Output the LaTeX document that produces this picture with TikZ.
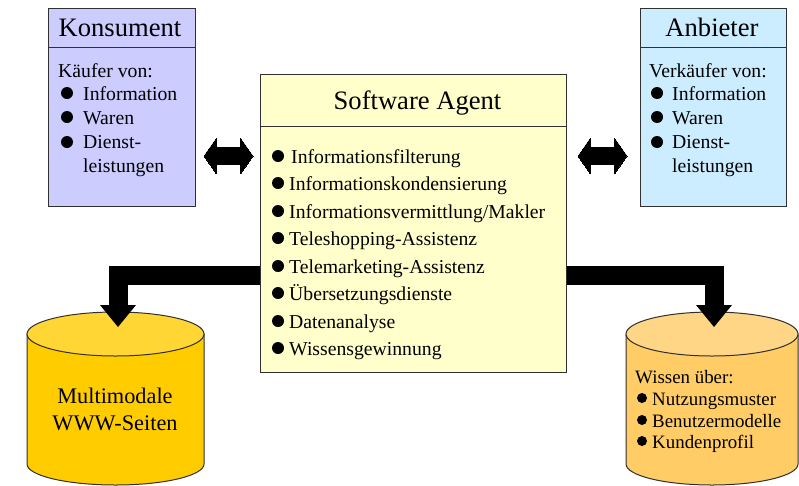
\documentclass[tikz,border=0pt]{standalone}
\usepackage{fontspec}
\setmainfont{Liberation Serif}
\usetikzlibrary{shapes.arrows,shapes.geometric,arrows.meta}
\definecolor{konsum}{HTML}{CCCCFF}
\definecolor{agentc}{HTML}{FFFFCC}
\definecolor{anbiet}{HTML}{CCECFF}
\definecolor{gold}{HTML}{FFCC00}
\definecolor{goldtop}{HTML}{FFD633}
\definecolor{apri}{HTML}{FFCC66}
\definecolor{apritop}{HTML}{FFD685}
\definecolor{edge}{HTML}{303030}
\newcommand{\fs}[1]{\fontsize{#1}{#1}\selectfont}
\tikzset{x=1pt,y=-1pt,
 boxshape/.style={draw=edge,line width=1pt,inner sep=0pt,anchor=north west},
 title/.style={anchor=base,inner sep=0pt,font=\fs{26.6}},
 txt/.style={anchor=base west,inner sep=0pt,font=\fs{19.7}},
 mid/.style={anchor=base,inner sep=0pt,font=\fs{22.3}},
 small/.style={anchor=base west,inner sep=0pt,font=\fs{18.9}},
 dot/.style={circle,fill=black,inner sep=0pt,minimum size=12pt},
 sdot/.style={circle,fill=black,inner sep=0pt,minimum size=10pt},
 link/.style={draw=black,line width=19pt,-{Triangle[length=22pt,width=36pt,line width=0pt,sep=0pt]}},
 dbl/.style={double arrow,fill=black,draw=black,line width=0pt,inner xsep=0pt,inner ysep=8.5pt,minimum height=49pt,double arrow head extend=9pt,double arrow tip angle=110,anchor=center},
}
\newcommand{\cyl}[7]{% name, left, right, fill, topfill
 \path[draw=edge,line width=1pt,fill=#4] (#2,334) -- (#2,464) arc[start angle=180,end angle=0,x radius=#6,y radius=21] -- (#3,334) -- cycle;
 \node[ellipse,draw=edge,line width=1pt,fill=#5,inner sep=0pt,minimum width=#7,minimum height=44pt] (#1) at (#2+#6,334) {};
}
\begin{document}
\begin{tikzpicture}
\useasboundingbox (0,0) rectangle (799,485);
% boxes
\node[boxshape,fill=konsum,minimum width=147pt,minimum height=198pt] (kons) at (48,8) {};
\draw[edge,line width=1pt] (kons.north west |- 0,47) coordinate (k1) -- (kons.north east |- k1);
\node[boxshape,fill=agentc,minimum width=306pt,minimum height=298pt] (agent) at (260,74) {};
\draw[edge,line width=1pt] (agent.north west |- 0,126) coordinate (a1) -- (agent.north east |- a1);
\node[boxshape,fill=anbiet,minimum width=146pt,minimum height=198pt] (anb) at (640,8) {};
\draw[edge,line width=1pt] (anb.north west |- 0,47) coordinate (b1) -- (anb.north east |- b1);
% cylinders
\cyl{dbl}{27}{204}{gold}{goldtop}{88.5}{177pt}
\cyl{dbr}{626}{798}{apri}{apritop}{86}{172pt}
% connectors
\coordinate (lt) at (118,327);
\coordinate (rt) at (714,327);
\draw[link] (agent.west |- 0,275) -| (lt);
\draw[link] (agent.east |- 0,275) -| (rt);
\node[dbl] (da1) at (228.5,156) {};
\node[dbl] (da2) at (602.5,156) {};
% Konsument
\node[title] (t1) at (120,36) {Konsument};
\node[txt] (k0) at (58,77) {Käufer von:};
\node[dot] (kd1) at (67,93) {}; \node[txt] (k2) at (83,100) {Information};
\node[dot] (kd2) at (67,117) {}; \node[txt] (k3) at (83,124) {Waren};
\node[dot] (kd3) at (67,142) {}; \node[txt] (k4) at (83,148) {Dienst-};
\node[txt] (k5) at (83,172) {leistungen};
% Anbieter
\node[title] (t2) at (712,36) {Anbieter};
\node[txt] (b0) at (649,77) {Verkäufer von:};
\node[dot] (bd1) at (657,93) {}; \node[txt] (b2) at (672,100) {Information};
\node[dot] (bd2) at (657,117) {}; \node[txt] (b3) at (672,124) {Waren};
\node[dot] (bd3) at (657,142) {}; \node[txt] (b4) at (672,148) {Dienst-};
\node[txt] (b5) at (672,172) {leistungen};
% Agent
\node[title] (t3) at (417.5,109) {Software Agent};
\foreach \n/\y/\tx/\s in {1/163/291/{Informationsfilterung},2/190/289/{Informationskondensierung},3/218/289/{Informationsvermittlung/Makler},4/245/289/{Teleshopping-Assistenz},5/273/289/{Telemarketing-Assistenz},6/300/289/{Übersetzungsdienste},7/328/289/{Datenanalyse},8/355/289/{Wissensgewinnung}}{
 \node[dot] (ad\n) at (278,\y-7) {};
 \node[txt] (a\n) at (\tx,\y) {\s};
}
% cylinder text
\node[mid] (m1) at (115,403) {Multimodale};
\node[mid] (m2) at (115,430) {WWW-Seiten};
\node[small] (w0) at (635,383) {Wissen über:};
\node[sdot] (wd1) at (642,398) {}; \node[small] (w1) at (652,405) {Nutzungsmuster};
\node[sdot] (wd2) at (642,420) {}; \node[small] (w2) at (652,427) {Benutzermodelle};
\node[sdot] (wd3) at (642,441) {}; \node[small] (w3) at (652,448) {Kundenprofil};
\end{tikzpicture}
\end{document}
